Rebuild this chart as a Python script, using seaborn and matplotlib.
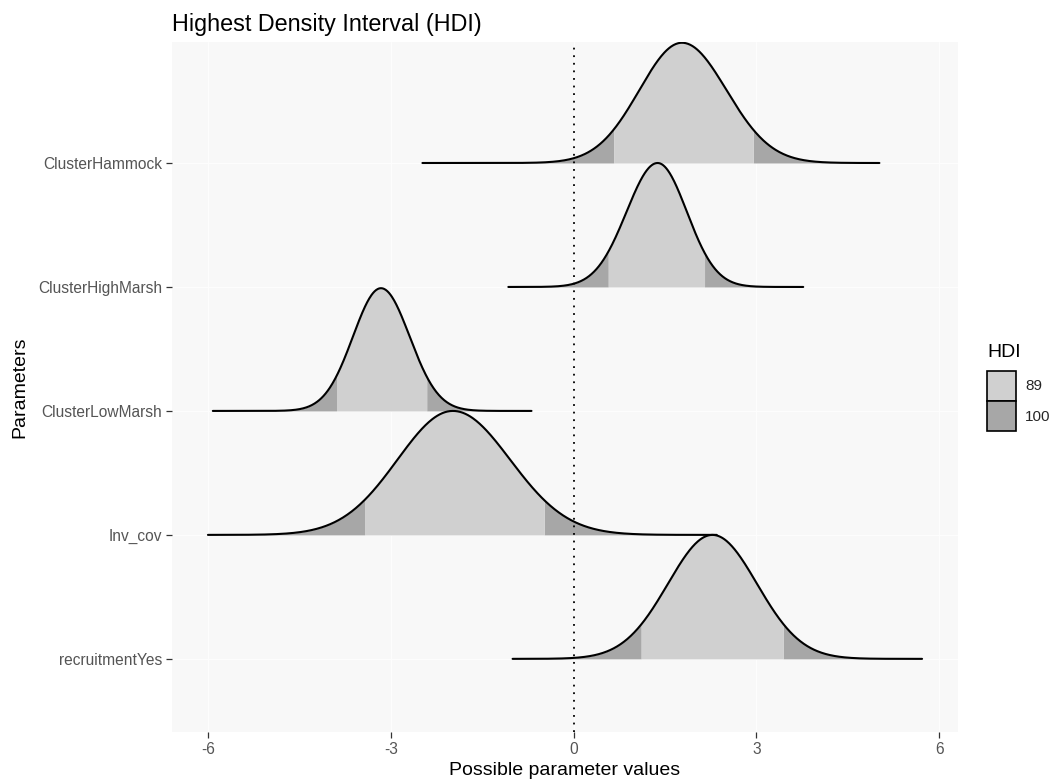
import numpy as np
import pandas as pd
import matplotlib
matplotlib.use("Agg")
import matplotlib.pyplot as plt
import seaborn as sns
from matplotlib.patches import Patch

# ---- data ----
params = ["ClusterHammock", "ClusterHighMarsh", "ClusterLowMarsh", "Inv_cov", "recruitmentYes"]
modes = [1.78, 1.38, -3.16, -1.98, 2.28]          # location of each density peak
sd_left = [0.70, 0.51, 0.46, 0.91, 0.73]          # spread left of the peak
sd_right = [0.73, 0.48, 0.47, 0.94, 0.73]         # spread right of the peak
x_min = [-2.48, -1.07, -5.92, -6.00, -1.00]       # left end of each ridge
x_max = [5.02, 3.77, -0.69, 2.35, 5.72]           # right end of each ridge
hdi_low = [0.66, 0.57, -3.89, -3.43, 1.11]        # 89% HDI lower bound
hdi_high = [2.95, 2.15, -2.41, -0.48, 3.44]       # 89% HDI upper bound
peak_height = [0.97, 1.00, 0.99, 1.00, 1.00]      # ridge height (in row units)
hdi_levels = ["89", "100"]
x_ticks = [-6, -3, 0, 3, 6]

LIGHT = "#D0D0D0"
DARK = "#A7A7A7"

sns.set_theme(style="whitegrid")
plt.rcParams["font.family"] = ["Liberation Sans", "DejaVu Sans"]

# build long table of curve points
rows = []
n = len(params)
for i, p in enumerate(params):
    base = n - 1 - i
    xs = np.union1d(np.linspace(x_min[i], x_max[i], 600), [hdi_low[i], hdi_high[i]])
    sd = np.where(xs < modes[i], sd_left[i], sd_right[i])
    dens = peak_height[i] * np.exp(-0.5 * ((xs - modes[i]) / sd) ** 2)
    for xv, dv in zip(xs, dens):
        rows.append((p, base, xv, dv, base + dv))
df = pd.DataFrame(rows, columns=["param", "base", "x", "density", "y"])

fig = plt.figure(figsize=(10.61, 7.84), dpi=100)
fig.patch.set_facecolor("white")
ax = fig.add_axes([172 / 1061, 1 - 732 / 784, 786 / 1061, 690 / 784])
ax.set_facecolor("#F8F8F8")

for i, p in enumerate(params):
    d = df[df["param"] == p]
    base = n - 1 - i
    x = d["x"].to_numpy()
    y = d["y"].to_numpy()
    z = 3 + 3 * i
    inner = (x >= hdi_low[i]) & (x <= hdi_high[i])
    left = x <= hdi_low[i]
    right = x >= hdi_high[i]
    ax.fill_between(x[left], base, y[left], color=DARK, lw=0, zorder=z)
    ax.fill_between(x[right], base, y[right], color=DARK, lw=0, zorder=z)
    ax.fill_between(x[inner], base, y[inner], color=LIGHT, lw=0, zorder=z)
    sns.lineplot(data=d, x="x", y="y", estimator=None, sort=False, color="black",
                 lw=1.5, ax=ax, zorder=z + 1, legend=False)

ax.axvline(0, color="black", ls=(0, (1, 3.2)), lw=1.3, zorder=60)

ax.set_xlim(-6.59, 6.31)
ax.set_ylim(-0.59, 4.976)
ax.set_xticks(x_ticks)
ax.set_xticklabels([str(t) for t in x_ticks])
ax.set_yticks(list(range(n)))
ax.set_yticklabels(params[::-1])

ax.grid(True, color="#FDFDFD", lw=1.0, zorder=0)
for s in ax.spines.values():
    s.set_visible(False)
ax.tick_params(axis="both", length=4, width=0.9, color="#333333",
               labelcolor="#555555", labelsize=11.2, pad=3, bottom=True, left=True)

ax.set_xlabel("Possible parameter values", fontsize=14, color="black", labelpad=4)
ax.set_ylabel("Parameters", fontsize=14, color="black", labelpad=7)
ax.set_title("Highest Density Interval (HDI)", loc="left", fontsize=16.8,
             color="black", pad=8)

# legend
fig.text(987 / 1061, 1 - 352 / 784, "HDI", fontsize=14, color="black",
         ha="left", va="center")
handles = [Patch(facecolor=LIGHT, edgecolor="black", lw=1.2),
           Patch(facecolor=DARK, edgecolor="black", lw=1.2)]
leg = fig.legend(handles, hdi_levels, loc="upper left",
                 bbox_to_anchor=(987 / 1061, 1 - 371 / 784), bbox_transform=fig.transFigure,
                 frameon=False, fontsize=11, handlelength=1.9,
                 handleheight=2.6, labelspacing=0.05, handletextpad=0.6,
                 borderaxespad=0, borderpad=0)

fig.savefig("out.png", dpi=100, facecolor="white")
